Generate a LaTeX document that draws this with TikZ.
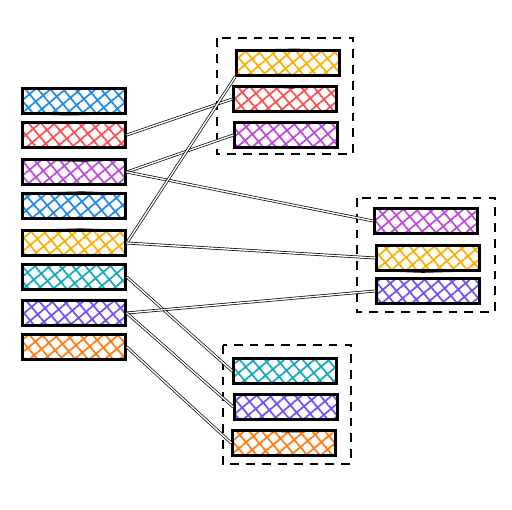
\documentclass[tikz,border=0pt]{standalone}
\usepackage{xcolor}
\usepackage{tikz}
\usetikzlibrary{patterns.meta,decorations.pathmorphing}

\definecolor{xblue}{HTML}{228BE6}
\definecolor{xred}{HTML}{FA5252}
\definecolor{xpurple}{HTML}{BE4BDB}
\definecolor{xyellow}{HTML}{FAB005}
\definecolor{xteal}{HTML}{15AABF}
\definecolor{xviolet}{HTML}{7950F2}
\definecolor{xorange}{HTML}{FD7E14}

\tikzset{
    box/.style={rectangle, inner sep=0pt, minimum width=2.06cm, minimum height=0.5cm,
        pattern={Hatch[angle=40, distance=5.5pt, line width=1pt]}, pattern color=#1,
        draw=black, line width=1.4pt,
        postaction={draw=black, line width=0.8pt, decorate,
            decoration={random steps, segment length=0.9cm, amplitude=1pt}}},
    link/.style={double, double distance=0.8pt, line width=0.4pt},
    frame/.style={dashed, line width=1.2pt, dash pattern=on 5pt off 4pt}
}

\begin{document}
\begin{tikzpicture}[x=0.02cm, y=-0.02cm]
        \useasboundingbox (0,0) rectangle (512,510);

        % Left column
        \node[box=xblue]   (l1) at (74,101) {};
        \node[box=xred]    (l2) at (74,135) {};
        \node[box=xpurple] (l3) at (74,172) {};
        \node[box=xblue]   (l4) at (74,206) {};
        \node[box=xyellow] (l5) at (74,243) {};
        \node[box=xteal]   (l6) at (74,277) {};
        \node[box=xviolet] (l7) at (74,313) {};
        \node[box=xorange] (l8) at (74,347) {};

        % Top group
        \draw[frame] (217,38) rectangle (353,154);
        \node[box=xyellow] (t1) at (288,63) {};
        \node[box=xred]    (t2) at (285,99) {};
        \node[box=xpurple] (t3) at (286,135) {};

        % Right group
        \draw[frame] (357,198) rectangle (495,312);
        \node[box=xpurple] (r1) at (426,221) {};
        \node[box=xyellow] (r2) at (428,258) {};
        \node[box=xviolet] (r3) at (428,291) {};

        % Bottom group
        \draw[frame] (223,345) rectangle (351,464);
        \node[box=xteal]   (b1) at (285,371) {};
        \node[box=xviolet] (b2) at (286,407) {};
        \node[box=xorange] (b3) at (284,443) {};

        % Links
        \draw[link] (l2.east) -- (t2.west);
        \draw[link] (l3.east) -- (t3.west);
        \draw[link] (l3.east) -- (r1.west);
        \draw[link] (l5.east) -- (t1.south west);
        \draw[link] (l5.east) -- (r2.west);
        \draw[link] (l6.east) -- (b1.west);
        \draw[link] (l7.east) -- (r3.west);
        \draw[link] (l7.east) -- (b2.west);
        \draw[link] (l8.east) -- (b3.west);
    \end{tikzpicture}
\end{document}
